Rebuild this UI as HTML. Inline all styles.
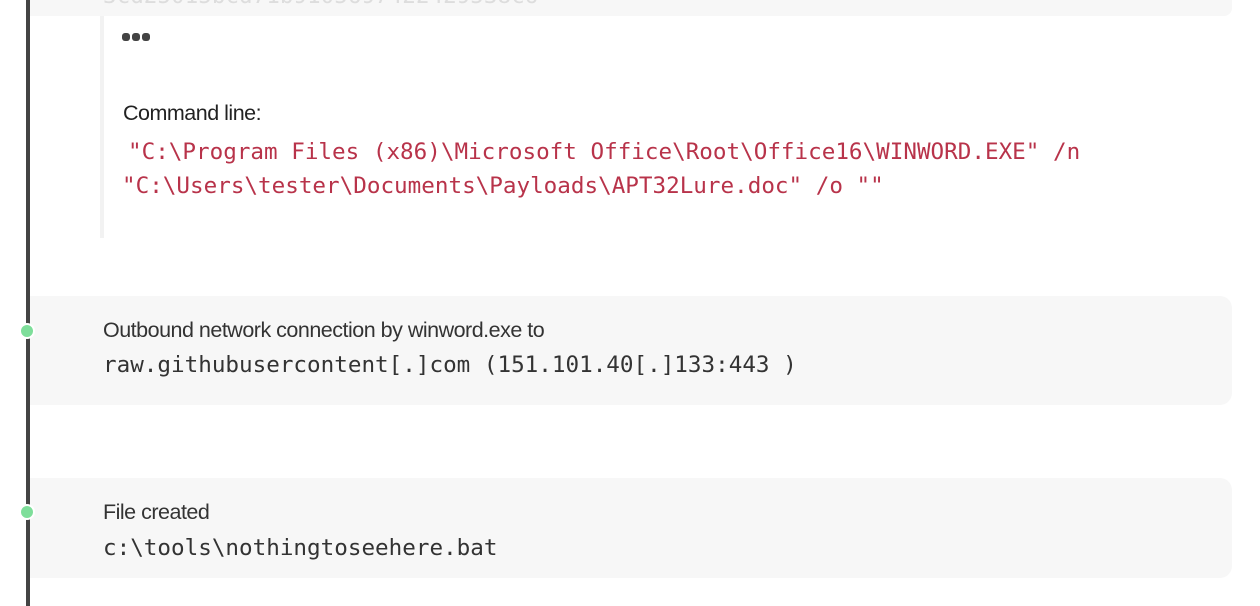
<!DOCTYPE html>
<html><head><style>
body{margin:0;width:1260px;height:606px;background:#fff;position:relative;overflow:hidden;font-family:"Liberation Sans",sans-serif}
.abs{position:absolute}
.mono{font-family:"DejaVu Sans Mono","Liberation Mono",monospace;font-size:22.6px;white-space:pre}
.sans{font-size:21.5px;color:#333;letter-spacing:-0.5px;white-space:pre}
</style></head><body>
<div class="abs" style="left:30px;top:-10px;width:1202px;height:26px;background:#f7f7f7;border-radius:0 0 8px 0"></div>
<div class="abs mono" style="left:103px;top:-17px;color:#ddd">3cd25015bcd71b9105697422429538c6</div>
<div class="abs" style="left:26px;top:0;width:4px;height:606px;background:#444"></div>
<div class="abs" style="left:100px;top:16px;width:4px;height:222px;background:#f2f2f2"></div>
<div class="abs" style="left:122px;top:33px;width:29px;height:8px">
<span class="abs" style="left:0;top:0;width:8px;height:8px;border-radius:3px;background:#444"></span>
<span class="abs" style="left:10px;top:0;width:8px;height:8px;border-radius:3px;background:#444"></span>
<span class="abs" style="left:20px;top:0;width:8px;height:8px;border-radius:3px;background:#444"></span>
</div>
<div class="abs sans" style="left:123px;top:101px;color:#222">Command line:</div>
<div class="abs mono" style="left:128px;top:139px;color:#b8334a">"C:\Program Files (x86)\Microsoft Office\Root\Office16\WINWORD.EXE" /n</div>
<div class="abs mono" style="left:122px;top:173px;color:#b8334a">"C:\Users\tester\Documents\Payloads\APT32Lure.doc" /o ""</div>

<div class="abs" style="left:30px;top:296px;width:1202px;height:109px;background:#f7f7f7;border-radius:0 12px 12px 0"></div>
<div class="abs" style="left:19px;top:323px;width:16px;height:16px;border-radius:50%;background:#7ede9a;border:2px solid #fff;box-sizing:border-box"></div>
<div class="abs sans" style="left:103px;top:318px">Outbound network connection by winword.exe to</div>
<div class="abs mono" style="left:103px;top:352px;color:#333">raw.githubusercontent[.]com (151.101.40[.]133:443 )</div>

<div class="abs" style="left:30px;top:478px;width:1202px;height:100px;background:#f7f7f7;border-radius:0 12px 12px 0"></div>
<div class="abs" style="left:19px;top:504px;width:16px;height:16px;border-radius:50%;background:#7ede9a;border:2px solid #fff;box-sizing:border-box"></div>
<div class="abs sans" style="left:103px;top:500px">File created</div>
<div class="abs mono" style="left:103px;top:535px;color:#333">c:\tools\nothingtoseehere.bat</div>
</body></html>
